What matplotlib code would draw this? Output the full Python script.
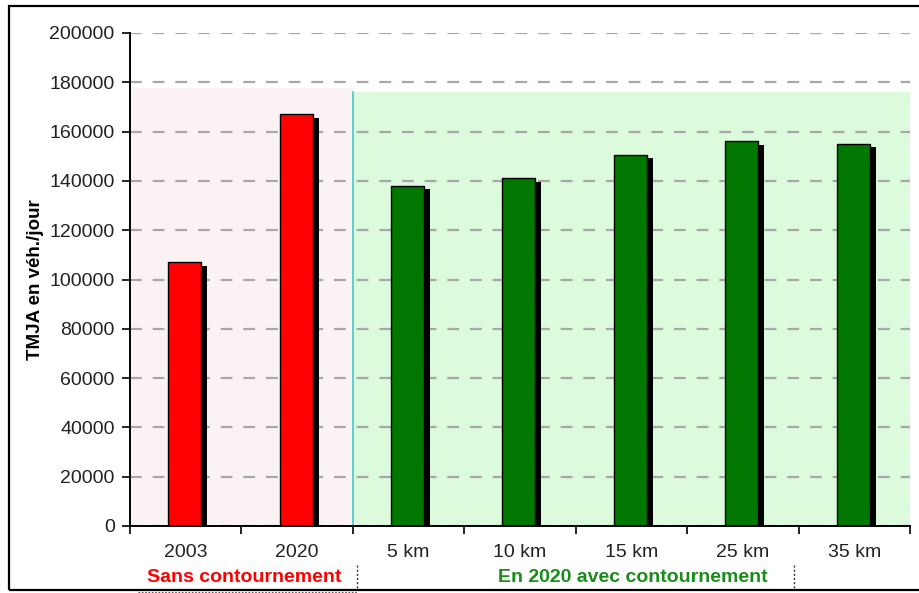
import matplotlib
matplotlib.use("Agg")
import matplotlib.pyplot as plt
from matplotlib.patches import Rectangle
from matplotlib.lines import Line2D
import numpy as np

plt.rcParams['font.family'] = ['Liberation Sans', 'DejaVu Sans']

categories = ["2003", "2020", "5 km", "10 km", "15 km", "25 km", "35 km"]
values = [107000, 167000, 138000, 141000, 150500, 156000, 155000]
colors = ["#FF0000", "#FF0000", "#007800", "#007800", "#007800", "#007800", "#007800"]
group_labels = ["Sans contournement", "En 2020 avec contournement"]
group_colors = ["#FF0000", "#1A8C1A"]
y_ticks = [0, 20000, 40000, 60000, 80000, 100000, 120000, 140000, 160000, 180000, 200000]
ylabel = "TMJA en véh./jour"

W, H = 919, 593
fig = plt.figure(figsize=(W / 100, H / 100), dpi=100)

def px(x0, y0, x1, y1):
    return [x0 / W, 1 - y1 / H, (x1 - x0) / W, (y1 - y0) / H]

ax = fig.add_axes(px(130, 33, 910, 526))
ax.set_xlim(-0.5, 6.5)
ax.set_ylim(0, 200000)

x = np.arange(len(categories))
bw = 0.296
# background zones
ax.axvspan(-0.5, 1.5, ymin=0, ymax=177500 / 200000, color="#FBF3F3", zorder=0.1, lw=0)
ax.axvspan(1.5, 6.5, ymin=0, ymax=176000 / 200000, color="#DCFADC", zorder=0.1, lw=0)
ax.plot([1.5, 1.5], [0, 176000], color="#40C8C8", lw=1.2, zorder=0.3)

# gridlines
ax.set_axisbelow(True)
ax.yaxis.grid(True, color="#A8A8A8", lw=1.6, dashes=(5.3, 4.9))
ax.set_yticks(y_ticks)

# shadows then bars
ax.bar(x - 0.01 + 0.054, np.array(values) - 1400, width=bw, color="black", zorder=2, lw=0)
ax.bar(x - 0.01, values, width=bw, color=colors, edgecolor="black", lw=1.0, zorder=3)

for s in ["top", "right"]:
    ax.spines[s].set_visible(False)
for s in ["left", "bottom"]:
    ax.spines[s].set_linewidth(1.4)
    ax.spines[s].set_zorder(4)

ax.set_xticks(x)
ax.set_xticklabels(categories, fontsize=14, color="#222222")
ax.set_xticks(np.arange(-0.5, 7, 1), minor=True)
ax.tick_params(axis="x", which="major", length=0, pad=13)
ax.tick_params(axis="x", which="minor", length=6, width=1.2, direction="out")
ax.tick_params(axis="y", length=6, width=1.2, direction="out", pad=5, labelsize=14, labelcolor="#222222")
ax.set_ylabel(ylabel, fontsize=13.5, fontweight="bold", labelpad=4)

# group labels
fig.text(244 / W, 1 - 578 / H, group_labels[0], color=group_colors[0], fontsize=14,
         fontweight="bold", ha="center", va="center")
fig.text(633 / W, 1 - 578 / H, group_labels[1], color=group_colors[1], fontsize=14,
         fontweight="bold", ha="center", va="center")

# dotted separators
for sx in (357, 794):
    fig.add_artist(Line2D([sx / W, sx / W], [1 - 565 / H, 1 - 590 / H], color="#333333",
                          lw=1, linestyle=(0, (1.5, 1.5))))
fig.add_artist(Line2D([138 / W, 357 / W], [1 - 592 / H, 1 - 592 / H], color="#555555",
                      lw=0.8, linestyle=(0, (1.5, 1.5))))

# outer frame
fig.add_artist(Rectangle((9 / W, 1 - 590 / H), (935 - 9) / W, (590 - 6) / H,
                         fill=False, edgecolor="black", lw=1.6, transform=fig.transFigure))

fig.savefig("out.png", dpi=100)
